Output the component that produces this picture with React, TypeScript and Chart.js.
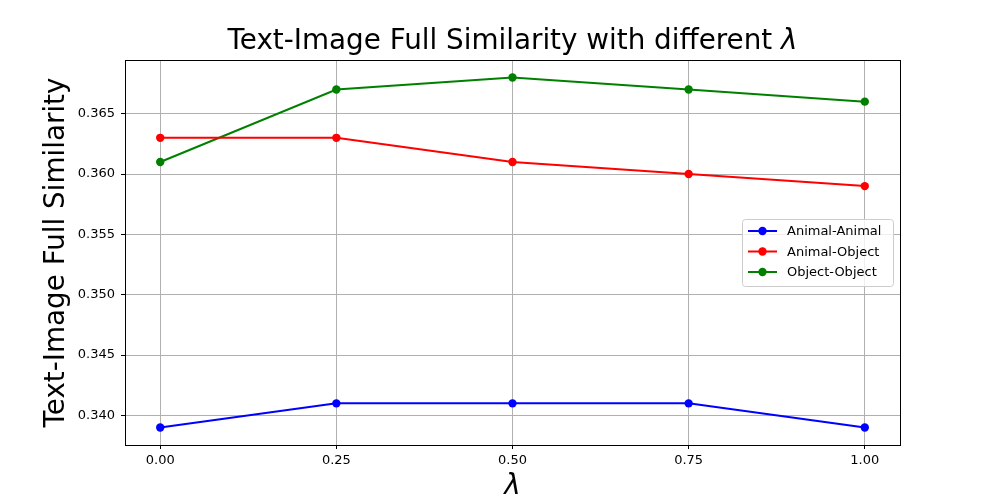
import React, { useEffect, useRef } from "react";
import { Chart, registerables } from "chart.js";

Chart.register(...registerables);

const lambdas = [0, 0.25, 0.5, 0.75, 1.0];
const animalAnimal = [0.339, 0.341, 0.341, 0.341, 0.339];
const animalObject = [0.363, 0.363, 0.361, 0.36, 0.359];
const objectObject = [0.361, 0.367, 0.368, 0.367, 0.366];
const seriesNames = ["Animal-Animal", "Animal-Object", "Object-Object"];
const seriesColors = ["#0000ff", "#ff0000", "#008000"];
const xTicks = [0, 0.25, 0.5, 0.75, 1.0];
const yTicks = [0.34, 0.345, 0.35, 0.355, 0.36, 0.365];

const FONT = '"DejaVu Sans"';

const decorPlugin = {
  id: "decor",
  afterDraw(chart: any) {
    const { ctx, chartArea } = chart;
    const { left, right, top, bottom } = chartArea;
    const cx = (left + right) / 2;
    ctx.save();
    // spines
    ctx.strokeStyle = "#000";
    ctx.lineWidth = 1;
    ctx.strokeRect(Math.round(left) + 0.5, Math.round(top) + 0.5, Math.round(right - left), Math.round(bottom - top));

    // title
    ctx.fillStyle = "#000";
    ctx.textBaseline = "alphabetic";
    const tMain = "Text-Image Full Similarity with different ";
    ctx.font = `27.8px ${FONT}`;
    const w1 = ctx.measureText(tMain).width;
    ctx.font = `italic 27.8px ${FONT}`;
    const w2 = ctx.measureText("λ").width;
    const x0 = cx - (w1 + w2) / 2;
    ctx.textAlign = "left";
    ctx.font = `27.8px ${FONT}`;
    ctx.fillText(tMain, x0, 49);
    ctx.font = `italic 27.8px ${FONT}`;
    ctx.fillText("λ", x0 + w1, 49);

    // x label
    ctx.textAlign = "center";
    ctx.font = `italic 27.8px ${FONT}`;
    ctx.fillText("λ", cx, 494);

    // y label
    ctx.save();
    ctx.translate(63.5, (top + bottom) / 2);
    ctx.rotate(-Math.PI / 2);
    ctx.font = `27.8px ${FONT}`;
    ctx.textAlign = "center";
    ctx.fillText("Text-Image Full Similarity", 0, 0);
    ctx.restore();

    // legend
    const lx = 742, ly = 219, lw = 151, lh = 67;
    ctx.fillStyle = "rgba(255,255,255,0.8)";
    ctx.strokeStyle = "#cccccc";
    ctx.lineWidth = 1;
    ctx.beginPath();
    (ctx as any).roundRect(lx + 0.5, ly + 0.5, lw, lh, 3);
    ctx.fill();
    ctx.stroke();
    ctx.font = `13px ${FONT}`;
    ctx.textAlign = "left";
    ctx.textBaseline = "middle";
    seriesNames.forEach((name, i) => {
      const y = ly + 12 + i * 20.5;
      ctx.strokeStyle = seriesColors[i];
      ctx.lineWidth = 2;
      ctx.beginPath();
      ctx.moveTo(lx + 6, y);
      ctx.lineTo(lx + 35, y);
      ctx.stroke();
      ctx.fillStyle = seriesColors[i];
      ctx.beginPath();
      ctx.arc(lx + 20.5, y, 4.2, 0, Math.PI * 2);
      ctx.fill();
      ctx.fillStyle = "#000";
      ctx.fillText(name, lx + 45, y + 1);
    });
    ctx.restore();
  },
};

export default function App() {
  const ref = useRef<HTMLCanvasElement>(null);
  useEffect(() => {
    const data = [animalAnimal, animalObject, objectObject];
    const chart = new Chart(ref.current!, {
      type: "line",
      data: {
        datasets: data.map((arr, i) => ({
          label: seriesNames[i],
          data: arr.map((v, j) => ({ x: lambdas[j], y: v })),
          borderColor: seriesColors[i],
          backgroundColor: seriesColors[i],
          borderWidth: 2,
          pointRadius: 4.2,
          pointHoverRadius: 4.2,
          pointBorderWidth: 0,
          tension: 0,
        })),
      },
      options: {
        animation: false,
        responsive: false,
        events: [],
        layout: { padding: { top: 60, right: 100, left: 0, bottom: 0 } },
        plugins: { legend: { display: false }, title: { display: false }, tooltip: { enabled: false } },
        scales: {
          x: {
            type: "linear",
            min: -0.05,
            max: 1.05,
            afterBuildTicks: (s: any) => {
              s.ticks = xTicks.map((v) => ({ value: v }));
            },
            afterFit: (s: any) => {
              s.height = 55;
            },
            grid: { color: "#b0b0b0", lineWidth: 1, tickColor: "#000", tickLength: 4 },
            border: { display: false },
            ticks: {
              color: "#000",
              font: { family: "DejaVu Sans", size: 13 },
              padding: 4,
              maxRotation: 0,
              callback: (v: any) => Number(v).toFixed(2),
            },
          },
          y: {
            type: "linear",
            min: 0.33755,
            max: 0.36945,
            afterBuildTicks: (s: any) => {
              s.ticks = yTicks.map((v) => ({ value: v }));
            },
            afterFit: (s: any) => {
              s.width = 125;
            },
            grid: { color: "#b0b0b0", lineWidth: 1, tickColor: "#000", tickLength: 4 },
            border: { display: false },
            ticks: {
              color: "#000",
              font: { family: "DejaVu Sans", size: 13 },
              padding: 6,
              callback: (v: any) => Number(v).toFixed(3),
            },
          },
        },
      },
      plugins: [decorPlugin],
    });
    return () => chart.destroy();
  }, []);
  return (
    <div style={{ position: "fixed", left: 0, top: 0, width: 1000, height: 500, background: "#fff" }}>
      <canvas ref={ref} width={1000} height={500} style={{ width: 1000, height: 500 }} />
    </div>
  );
}
